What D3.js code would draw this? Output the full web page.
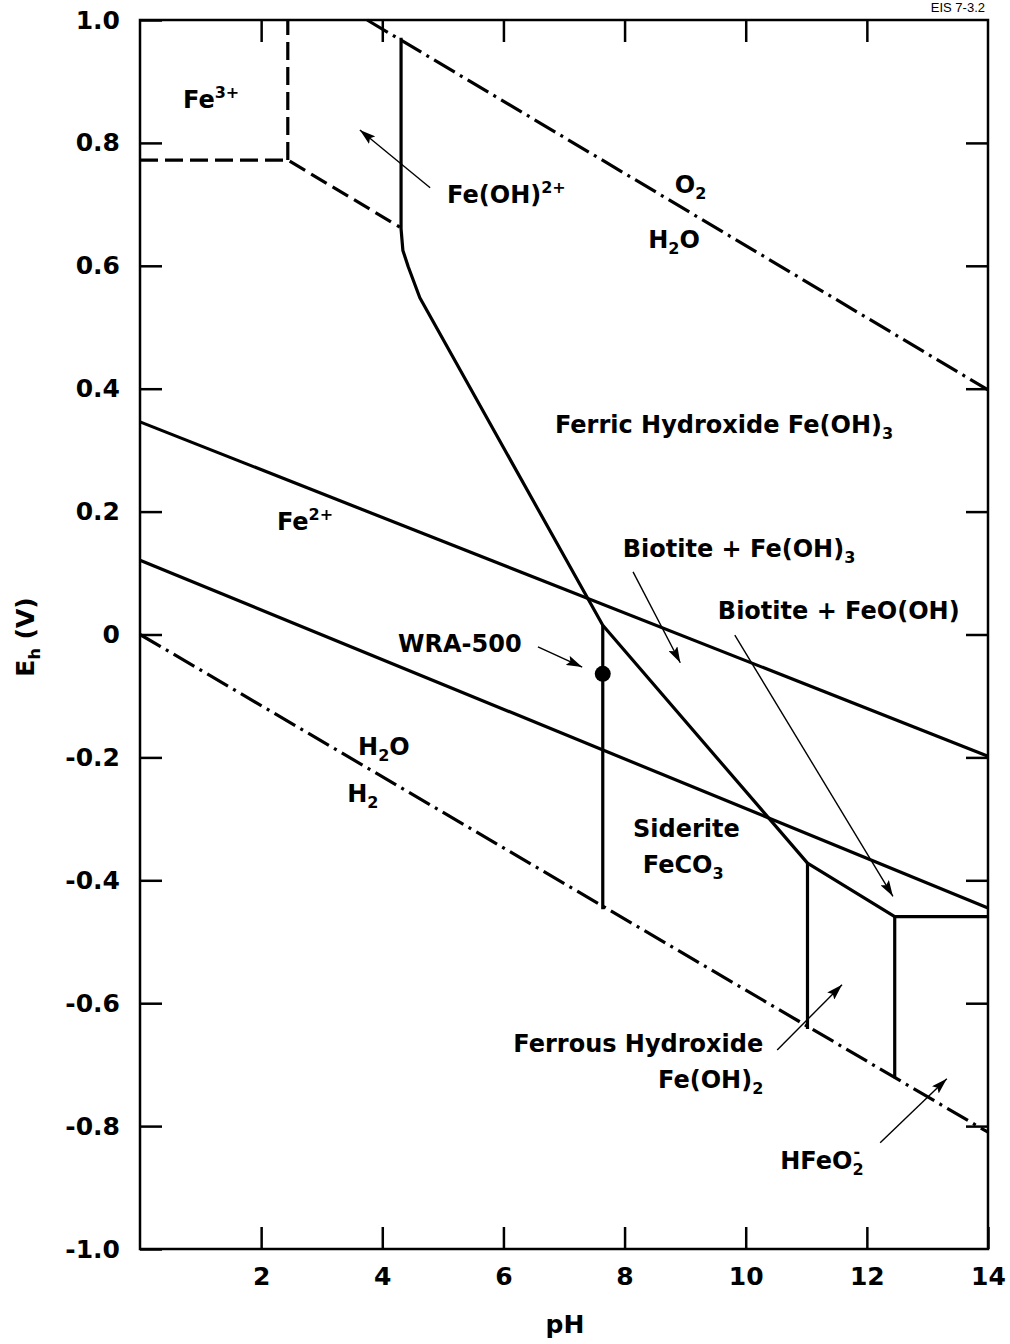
<!DOCTYPE html>
<html>
<head>
<meta charset="utf-8">
<script src="https://cdn.jsdelivr.net/npm/d3@7"></script>
<style>
  body { margin: 0; background: #fff; }
  svg text { font-family: "DejaVu Sans", sans-serif; font-weight: bold; fill: #000; }
</style>
</head>
<body>
<script>
// tick values
var phTicks = [2, 4, 6, 8, 10, 12, 14];
var phTopTicks = [2, 4, 6, 8, 10, 12];
var ehTicks = [1.0, 0.8, 0.6, 0.4, 0.2, 0, -0.2, -0.4, -0.6, -0.8, -1.0];
var ehSideTicks = [0.8, 0.6, 0.4, 0.2, 0, -0.2, -0.4, -0.6, -0.8];

// stability boundaries, [pH, Eh]
var waterUpper = [[3.75, 1.0], [14, 0.398]];
var waterLower = [[0, 0], [14, -0.81]];
var fe3Boundary = [[0, 0.772], [2.44, 0.772], [4.29, 0.663]];
var fe3Vertical = [[2.44, 0.772], [2.44, 1.0]];
var ferricBoundary = [[4.31, 0.971], [4.31, 0.66], [4.34, 0.625], [4.43, 0.598], [4.62, 0.548],
                      [7.64, 0.015], [11.02, -0.372], [12.46, -0.459], [14, -0.459]];
var fe2Line = [[0, 0.346], [14, -0.198]];
var sideriteLine = [[0, 0.121], [14, -0.445]];
var sideriteVertical = [[7.64, 0.015], [7.64, -0.447]];
var ferrousVertical = [[11.02, -0.372], [11.02, -0.642]];
var hfeo2Vertical = [[12.46, -0.459], [12.46, -0.722]];
var wraPoint = [7.64, -0.064];

// annotation arrows, [tail, tip]
var arrows = [
  [[4.79, 0.727], [3.63, 0.821]],
  [[6.57, -0.020], [7.30, -0.053]],
  [[8.14, 0.102], [8.92, -0.046]],
  [[9.82, -0.001], [12.43, -0.426]],
  [[10.52, -0.676], [11.59, -0.570]],
  [[12.22, -0.827], [13.32, -0.723]]
];

var W = 1010, H = 1344;
var svg = d3.select("body").append("svg")
    .attr("width", W)
    .attr("height", H);

var x = d3.scaleLinear().domain([0, 14]).range([140, 988]);
var y = d3.scaleLinear().domain([-1, 1]).range([1249, 20]);

var line = d3.line().x(function(d) { return x(d[0]); }).y(function(d) { return y(d[1]); });

// axes (ticks point inward)
function fmt(d) { return d === 0 ? "0" : d.toFixed(1); }

var gl = svg.append("g").attr("transform", "translate(" + x(0) + ",0)")
    .call(d3.axisLeft(y).tickValues(ehTicks).tickFormat(fmt).tickSizeInner(-22).tickSizeOuter(0).tickPadding(20));
var gb = svg.append("g").attr("transform", "translate(0," + y(-1) + ")")
    .call(d3.axisBottom(x).tickValues(phTicks).tickSizeInner(-22).tickSizeOuter(0).tickPadding(18));
var gt = svg.append("g").attr("transform", "translate(0," + y(1) + ")")
    .call(d3.axisTop(x).tickValues(phTopTicks).tickFormat("").tickSizeInner(-22).tickSizeOuter(0));
var gr = svg.append("g").attr("transform", "translate(" + x(14) + ",0)")
    .call(d3.axisRight(y).tickValues(ehSideTicks).tickFormat("").tickSizeInner(-22).tickSizeOuter(0));

[gl, gb, gt, gr].forEach(function(g) {
  g.select(".domain").remove();
  g.selectAll(".tick line").attr("stroke", "#000").attr("stroke-width", 2.5);
  g.selectAll(".tick text").attr("font-size", 25).attr("font-family", null).attr("fill", "#000");
});

// frame
svg.append("rect")
    .attr("x", x(0)).attr("y", y(1))
    .attr("width", x(14) - x(0)).attr("height", y(-1) - y(1))
    .attr("fill", "none").attr("stroke", "#000").attr("stroke-width", 2.5);

// boundaries
var solid = [ferricBoundary, fe2Line, sideriteLine, sideriteVertical, ferrousVertical, hfeo2Vertical];
svg.selectAll(".solid").data(solid).enter().append("path")
    .attr("class", "solid")
    .attr("d", line)
    .attr("fill", "none").attr("stroke", "#000").attr("stroke-width", 3.2)
    .attr("stroke-linejoin", "round");

svg.selectAll(".dashed").data([fe3Boundary, fe3Vertical]).enter().append("path")
    .attr("class", "dashed")
    .attr("d", line)
    .attr("fill", "none").attr("stroke", "#000").attr("stroke-width", 3.2)
    .attr("stroke-dasharray", "18,7");

svg.selectAll(".water").data([waterUpper, waterLower]).enter().append("path")
    .attr("class", "water")
    .attr("d", line)
    .attr("fill", "none").attr("stroke", "#000").attr("stroke-width", 3.2)
    .attr("stroke-dasharray", "24,6,3,6");

// WRA-500 point
svg.append("circle")
    .attr("cx", x(wraPoint[0])).attr("cy", y(wraPoint[1])).attr("r", 8)
    .attr("fill", "#000");

// arrows
svg.append("defs").append("marker")
    .attr("id", "head")
    .attr("viewBox", "0 -5 16 10")
    .attr("refX", 16).attr("refY", 0)
    .attr("markerWidth", 16).attr("markerHeight", 10)
    .attr("markerUnits", "userSpaceOnUse")
    .attr("orient", "auto")
  .append("path")
    .attr("d", "M0,-5L16,0L0,5L3,0Z")
    .attr("fill", "#000");

svg.selectAll(".arrow").data(arrows).enter().append("path")
    .attr("class", "arrow")
    .attr("d", line)
    .attr("stroke", "#000").attr("stroke-width", 1.4)
    .attr("marker-end", "url(#head)");

// labels: pieces [text, shift] where shift "sup"/"sub"
var labels = [
  { p: [0.71, 0.857], parts: [["Fe"], ["3+", "sup"]] },
  { p: [5.07, 0.702], parts: [["Fe(OH)"], ["2+", "sup"]] },
  { p: [8.83, 0.718], parts: [["O"], ["2", "sub"]] },
  { p: [8.39, 0.629], parts: [["H"], ["2", "sub"], ["O"]] },
  { p: [6.85, 0.328], parts: [["Ferric Hydroxide Fe(OH)"], ["3", "sub"]] },
  { p: [2.26, 0.170], parts: [["Fe"], ["2+", "sup"]] },
  { p: [7.97, 0.126], parts: [["Biotite + Fe(OH)"], ["3", "sub"]] },
  { p: [9.54, 0.025], parts: [["Biotite + FeO(OH)"]] },
  { p: [4.26, -0.028], parts: [["WRA-500"]] },
  { p: [3.60, -0.196], parts: [["H"], ["2", "sub"], ["O"]] },
  { p: [3.42, -0.273], parts: [["H"], ["2", "sub"]] },
  { p: [8.14, -0.330], parts: [["Siderite"]] },
  { p: [8.30, -0.388], parts: [["FeCO"], ["3", "sub"]] },
  { p: [10.29, -0.679], parts: [["Ferrous Hydroxide"]], anchor: "end" },
  { p: [10.29, -0.738], parts: [["Fe(OH)"], ["2", "sub"]], anchor: "end" },
  { p: [10.57, -0.870], parts: [["HFeO"], ["2", "sub"]], extraSup: "-" }
];

labels.forEach(function(l) {
  var t = svg.append("text")
      .attr("x", x(l.p[0])).attr("y", y(l.p[1]))
      .attr("font-size", 24)
      .attr("text-anchor", l.anchor || "start");
  l.parts.forEach(function(pt) {
    var s = t.append("tspan").text(pt[0]);
    if (pt[1] === "sup") s.attr("font-size", 16).attr("baseline-shift", "10");
    if (pt[1] === "sub") s.attr("font-size", 16).attr("baseline-shift", "-6");
  });
  if (l.extraSup) {
    t.append("tspan").attr("font-size", 16).attr("dx", -10).attr("baseline-shift", "12").text(l.extraSup);
  }
});

// axis titles
svg.append("text")
    .attr("x", 565).attr("y", 1333)
    .attr("text-anchor", "middle").attr("font-size", 25)
    .text("pH");

var eh = svg.append("text")
    .attr("transform", "translate(34,637) rotate(-90)")
    .attr("text-anchor", "middle").attr("font-size", 25);
eh.append("tspan").text("E");
eh.append("tspan").attr("font-size", 16).attr("baseline-shift", "-6").text("h");
eh.append("tspan").text(" (V)");

svg.append("text")
    .attr("x", 985).attr("y", 12)
    .attr("text-anchor", "end").attr("font-size", 13)
    .style("font-weight", "normal")
    .style("font-family", "'Liberation Sans', sans-serif")
    .text("EIS 7-3.2");
</script>
</body>
</html>
